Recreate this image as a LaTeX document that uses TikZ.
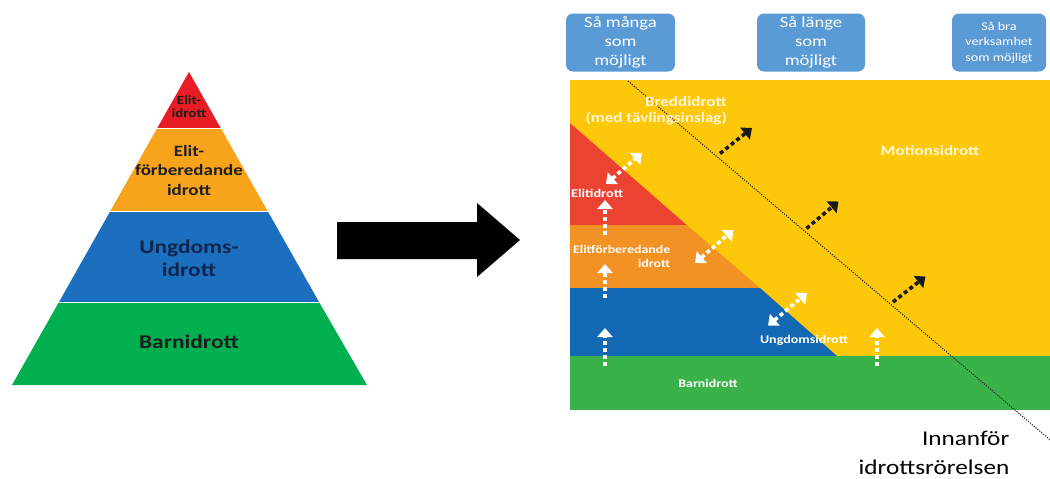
\documentclass[tikz,border=0pt]{standalone}
\usepackage{fontspec}
\setmainfont{Carlito}[FakeStretch=1.2]
\usetikzlibrary{arrows.meta}
\definecolor{pred}{RGB}{232,28,36}
\definecolor{porange}{RGB}{247,163,28}
\definecolor{pblue}{RGB}{28,110,190}
\definecolor{pgreen}{RGB}{0,176,80}
\definecolor{ryellow}{RGB}{254,200,10}
\definecolor{rred}{RGB}{236,66,50}
\definecolor{rorange}{RGB}{243,146,36}
\definecolor{rblue}{RGB}{18,104,178}
\definecolor{rgreen}{RGB}{58,178,74}
\definecolor{boxblue}{RGB}{91,155,213}
\definecolor{navy}{RGB}{14,38,78}
\definecolor{dark}{RGB}{30,30,30}
\definecolor{pale}{RGB}{255,246,214}
\newcommand{\fsz}[2]{\fontsize{#1}{#2}\selectfont}
\begin{document}
\begin{tikzpicture}[x=1pt,y=-1pt,
  ptext/.style={align=center,inner sep=0pt,text=dark},
  wlbl/.style={inner sep=0pt,text=white},
  topbox/.style={fill=boxblue,rounded corners=7pt,text=white,align=center,inner sep=0pt,minimum height=58pt},
  warr/.style={draw=white,line width=3.6pt,dash pattern=on 4pt off 3pt,-{Triangle[width=15pt,length=9pt]}},
  wdarr/.style={draw=white,line width=3.6pt,dash pattern=on 4pt off 3pt,{Triangle[width=15pt,length=9pt]}-{Triangle[width=15pt,length=9pt]}},
  barr/.style={draw=black!90,line width=3.6pt,dash pattern=on 4pt off 3pt,-{Triangle[width=15pt,length=9pt]}},
  dotline/.style={draw=black!85,line width=1pt,dash pattern=on 1.2pt off 1.3pt}]
\useasboundingbox (0,0) rectangle (1050,479);
\clip (0,0) rectangle (1050,479);
\fill[white] (0,0) rectangle (1050,479);

% ---------- pyramid ----------
\fill[pred] (189,72) -- (220.7,128) -- (157.3,128) -- cycle;
\fill[porange] (157.3,128) -- (220.7,128) -- (267.6,211) -- (110.4,211) -- cycle;
\fill[pblue] (110.4,211) -- (267.6,211) -- (319,302) -- (59,302) -- cycle;
\fill[pgreen] (59,302) -- (319,302) -- (367,385) -- (12,385) -- cycle;
\draw[white,line width=0.6pt] (157.3,128) -- (220.7,128) (110.4,211) -- (267.6,211) (59,302) -- (319,302);

\node[ptext,font=\bfseries\fsz{12.5}{13.3}] (pelit) at (189,107) {Elit-\\idrott};
\node[ptext,font=\bfseries\fsz{15.8}{19.5}] (pforb) at (189,170.5) {Elit-\\förberedande\\idrott};
\node[ptext,text=navy,font=\bfseries\fsz{19.5}{23.3}] (pung) at (189,258) {Ungdoms-\\idrott};
\node[ptext,font=\bfseries\fsz{19.5}{20}] (pbarn) at (189,341.5) {Barnidrott};

% ---------- big arrow ----------
\fill[black] (337,222) -- (477,222) -- (477,203) -- (520,240) -- (477,277) -- (477,259) -- (337,259) -- cycle;

% ---------- right diagram ----------
\fill[ryellow] (570,80) rectangle (1060,356);
\fill[rred] (570,123) -- (686.7,225) -- (570,225) -- cycle;
\fill[rorange] (570,225) -- (686.7,225) -- (760,288) -- (570,288) -- cycle;
\fill[rblue] (570,288) -- (760,288) -- (837,356) -- (570,356) -- cycle;
\fill[rgreen] (570,356) rectangle (1060,410);

% top boxes
\node[topbox,minimum width=109pt,font=\fsz{15.5}{19}] (b1) at (620.5,42.5) {Så många\\som\\möjligt};
\node[topbox,minimum width=108pt,font=\fsz{15.5}{19}] (b2) at (811,42.5) {Så länge\\som\\möjligt};
\node[topbox,minimum width=94pt,font=\fsz{11.8}{15.5}] (b3) at (999,42.5) {Så bra\\verksamhet\\som möjligt};

% dotted boundary
\coordinate (d1) at (628,81);
\coordinate (d2) at (1062,450);
\draw[dotline] (d1) -- (d2);

% labels
\node[wlbl,text=pale,align=right,anchor=east,font=\bfseries\fsz{14.2}{15.5}] (bredd) at (727,110.5) {Breddidrott\\(med tävlingsinslag)};
\node[wlbl,text=pale,font=\bfseries\fsz{14.2}{16}] (motion) at (930,151) {Motionsidrott};
\node[wlbl,anchor=west,font=\bfseries\fsz{11.9}{14}] (elit) at (571,193) {Elitidrott};
\node[wlbl,align=right,anchor=east,font=\bfseries\fsz{11.6}{14}] (forb) at (670.5,256) {Elitförberedande\\idrott};
\node[wlbl,font=\bfseries\fsz{11.7}{14}] (ung) at (804,340) {Ungdomsidrott};
\node[wlbl,font=\bfseries\fsz{11.6}{14}] (barn) at (708,383) {Barnidrott};

\node[inner sep=0pt,anchor=base east,text=black,font=\fsz{21}{30}] (inn1) at (1009.5,445) {Innanför};
\node[inner sep=0pt,anchor=base east,text=black,font=\fsz{21}{30}] (inn2) at (1009.5,474) {idrottsrörelsen};

% white vertical arrows
\coordinate (v1a) at (605,235); \coordinate (v1b) at (605,200);
\coordinate (v2a) at (605,298); \coordinate (v2b) at (605,264);
\coordinate (v3a) at (605,366); \coordinate (v3b) at (605,328);
\coordinate (v4a) at (877,366); \coordinate (v4b) at (877,328);
\draw[warr] (v1a) -- (v1b);
\draw[warr] (v2a) -- (v2b);
\draw[warr] (v3a) -- (v3b);
\draw[warr] (v4a) -- (v4b);

% white double arrows
\coordinate (w1a) at (606,184); \coordinate (w1b) at (642,153);
\coordinate (w2a) at (695,263); \coordinate (w2b) at (733.5,230);
\coordinate (w3a) at (768,325.5); \coordinate (w3b) at (807,293);
\draw[wdarr] (w1a) -- (w1b);
\draw[wdarr] (w2a) -- (w2b);
\draw[wdarr] (w3a) -- (w3b);

% black arrows
\coordinate (k1a) at (720,153.5); \coordinate (k1b) at (752,128);
\coordinate (k2a) at (806.5,228.5); \coordinate (k2b) at (838.5,201.5);
\coordinate (k3a) at (893,302); \coordinate (k3b) at (925.5,276.5);
\draw[barr] (k1a) -- (k1b);
\draw[barr] (k2a) -- (k2b);
\draw[barr] (k3a) -- (k3b);
\end{tikzpicture}
\end{document}
